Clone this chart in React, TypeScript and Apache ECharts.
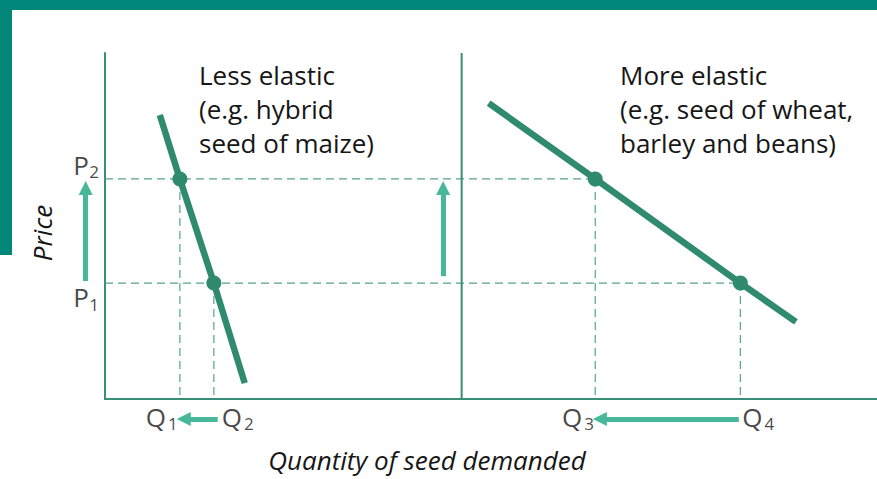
import React, { useEffect, useRef } from "react";
import * as echarts from "echarts";

// Values in chart units (x: 0..100 along quantity axis, y: 0..100 along price axis)
const PRICE_LEVELS = [33.5, 63.6]; // P1, P2
const QTY_LESS = [9.7, 14.1]; // Q1, Q2
const QTY_MORE = [63.5, 82.3]; // Q3, Q4
const LESS_X = [7.1, 9.7, 14.1, 18.1];
const LESS_Y = [82.1, 63.6, 33.5, 4.6];
const MORE_X = [49.7, 63.5, 82.3, 89.5];
const MORE_Y = [85.5, 63.6, 33.5, 22.3];
const DIVIDER_X = 46.2;
const ARROW_FROM = [[-2.5, 34.1], [43.8, 35.5], [14.6, -5.8], [82.1, -5.8]];
const ARROW_TO = [[-2.5, 61], [43.8, 61], [10.2, -5.8], [64.1, -5.8]];
const P_SUBS = ["1", "2"];
const Q_SUBS = ["1", "2", "3", "4"];
const P_LABEL_X = -4.0;
const Q_LABEL_Y = -5.1;

const FONT = "'Open Sans', sans-serif";
const TEXT = "#161616";
const AXIS = "#3a8d77";
const CURVE = "#2f8a70";
const DASH = "#56a28b";
const ARROW = "#47b899";
const FRAME = "#00877a";

export default function App() {
  const ref = useRef<HTMLDivElement>(null);
  useEffect(() => {
    if (!ref.current) return;
    const chart = echarts.init(ref.current, undefined, { renderer: "svg" });
    const [P1, P2] = PRICE_LEVELS;
    const [Q1, Q2] = QTY_LESS;
    const [Q3, Q4] = QTY_MORE;
    const dashSegs = [
      [[0, P2], [Q3, P2]],
      [[0, P1], [Q4, P1]],
      [[Q1, P2], [Q1, 0]],
      [[Q2, P1], [Q2, 0]],
      [[Q3, P2], [Q3, 0]],
      [[Q4, P1], [Q4, 0]],
    ];

    // letter + subscript labels, anchored to the data levels
    const mainData: any[] = [];
    const subData: any[] = [];
    const pDy = [14, -14];
    P_SUBS.forEach((s, i) => {
      mainData.push({ value: [P_LABEL_X, PRICE_LEVELS[i]], name: "P", label: { offset: [7, pDy[i]] } });
      subData.push({ value: [P_LABEL_X, PRICE_LEVELS[i]], name: s, label: { offset: [20, pDy[i] + 7] } });
    });
    const qPts = [Q1, Q2, Q3, Q4];
    const qDx = [-24, 18, -23, 12];
    Q_SUBS.forEach((s, i) => {
      mainData.push({ value: [qPts[i], Q_LABEL_Y], name: "Q", label: { offset: [qDx[i], 0] } });
      subData.push({ value: [qPts[i], Q_LABEL_Y], name: s, label: { offset: [qDx[i] + 17, 7] } });
    });
    const labelBase = {
      show: true, position: "inside", formatter: "{b}", color: TEXT, fontFamily: FONT,
      align: "center", verticalAlign: "middle", textBorderWidth: 0, textBorderColor: "transparent",
      textShadowBlur: 0,
    };

    const option: any = {
      animation: false,
      grid: { left: 105, right: 0, top: 53, bottom: 80 },
      xAxis: {
        type: "value", min: 0, max: 100,
        axisLine: { show: true, lineStyle: { color: AXIS, width: 2 } },
        axisTick: { show: false }, axisLabel: { show: false }, splitLine: { show: false },
      },
      yAxis: {
        type: "value", min: 0, max: 100,
        axisLine: { show: true, lineStyle: { color: AXIS, width: 2 } },
        axisTick: { show: false }, axisLabel: { show: false }, splitLine: { show: false },
      },
      graphic: [
        { type: "rect", left: 0, top: 0, shape: { width: 877, height: 10 }, style: { fill: FRAME } },
        { type: "rect", left: 0, top: 0, shape: { width: 12, height: 255 }, style: { fill: FRAME } },
        {
          type: "text", x: 199, y: 58,
          style: { text: "Less elastic\n(e.g. hybrid\nseed of maize)", font: `26px ${FONT}`, fill: TEXT, lineHeight: 34 },
        },
        {
          type: "text", x: 620, y: 58,
          style: { text: "More elastic\n(e.g. seed of wheat,\nbarley and beans)", font: `26px ${FONT}`, fill: TEXT, lineHeight: 34 },
        },
        {
          type: "text", x: 427, y: 460,
          style: { text: "Quantity of seed demanded", font: `italic 26px ${FONT}`, fill: TEXT, align: "center", verticalAlign: "middle" },
        },
        {
          type: "text", x: 42, y: 233, rotation: Math.PI / 2,
          style: { text: "Price", font: `italic 26px ${FONT}`, fill: TEXT, align: "center", verticalAlign: "middle" },
        },
      ],
      series: [
        {
          type: "line", data: [[DIVIDER_X, 0], [DIVIDER_X, 100]], symbol: "none",
          lineStyle: { color: AXIS, width: 2 }, z: 2,
        },
        ...dashSegs.map((seg) => ({
          type: "line", data: seg, symbol: "none", clip: false,
          lineStyle: { color: DASH, width: 1.2, type: [8, 5] }, z: 1,
        })),
        {
          type: "line", data: LESS_X.map((x, i) => [x, LESS_Y[i]]), symbol: "none", clip: false,
          lineStyle: { color: CURVE, width: 6.5 }, z: 3,
        },
        {
          type: "line", data: MORE_X.map((x, i) => [x, MORE_Y[i]]), symbol: "none", clip: false,
          lineStyle: { color: CURVE, width: 6.5 }, z: 3,
        },
        {
          type: "scatter", data: [[Q1, P2], [Q2, P1], [Q3, P2], [Q4, P1]], symbolSize: 15, clip: false,
          itemStyle: { color: CURVE, opacity: 1 }, z: 4,
        },
        {
          type: "lines", coordinateSystem: "cartesian2d", clip: false, z: 5,
          data: ARROW_FROM.map((f, i) => ({ coords: [f, ARROW_TO[i]] })),
          symbol: ["none", "triangle"], symbolSize: 14,
          lineStyle: { color: ARROW, width: 5, opacity: 1, curveness: 0 },
          itemStyle: { color: ARROW },
        },
        {
          type: "scatter", data: mainData, symbolSize: 1, clip: false, silent: true,
          itemStyle: { color: "rgba(0,0,0,0)" },
          label: { ...labelBase, fontSize: 26 },
          z: 6,
        },
        {
          type: "scatter", data: subData, symbolSize: 1, clip: false, silent: true,
          itemStyle: { color: "rgba(0,0,0,0)" },
          label: { ...labelBase, fontSize: 17 },
          z: 6,
        },
      ],
    };
    chart.setOption(option);
    return () => chart.dispose();
  }, []);
  return <div ref={ref} style={{ position: "absolute", left: 0, top: 0, width: 877, height: 479 }} />;
}
